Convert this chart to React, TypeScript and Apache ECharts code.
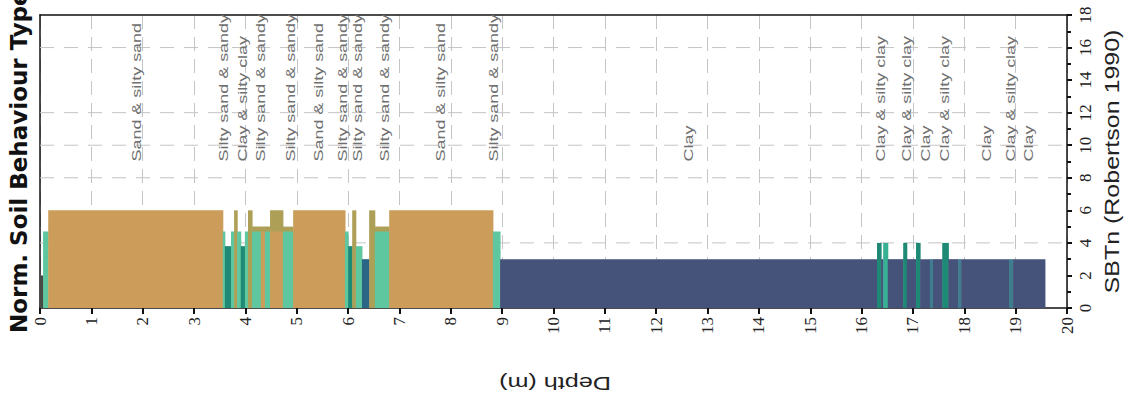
import { useEffect, useRef } from "react";
import * as echarts from "echarts";

// ---- Soil behaviour segments (depth from, depth to, SBTn value, zone colour key) ----
const segStart = [0, 0.06, 0.16, 3.56, 3.6, 3.72, 3.78, 3.84, 3.91, 3.99, 4.05, 4.13, 4.13, 4.3, 4.38, 4.48, 4.48, 4.73, 4.73, 4.93, 5.94, 6.0, 6.08, 6.15, 6.27, 6.41, 6.52, 6.52, 6.8, 8.82, 8.96, 16.3, 16.38, 16.42, 16.51, 16.81, 16.88, 17.06, 17.14, 17.33, 17.39, 17.57, 17.69, 17.88, 17.94, 18.87, 18.95];
const segEnd = [0.06, 0.16, 3.56, 3.6, 3.72, 3.78, 3.84, 3.91, 3.99, 4.05, 4.13, 4.48, 4.3, 4.38, 4.48, 4.73, 4.73, 4.93, 4.93, 5.94, 6.0, 6.08, 6.15, 6.27, 6.41, 6.52, 6.8, 6.8, 8.82, 8.96, 16.3, 16.38, 16.42, 16.51, 16.81, 16.88, 17.06, 17.14, 17.33, 17.39, 17.57, 17.69, 17.88, 17.94, 18.87, 18.95, 19.57];
const segValue = [2, 4.7, 6, 4.7, 3.8, 4.7, 6, 4.7, 3.8, 4.7, 6, 5, 4.7, 4.7, 4.7, 6, 4.7, 5, 4.7, 6, 4.7, 3.8, 6, 3.8, 3, 6, 5, 4.7, 6, 4.7, 3, 4, 3, 4, 3, 4, 3, 4, 3, 3, 3, 4, 3, 3, 3, 3, 3];
const segZone = ["dark", "green", "orange", "green", "teal", "green", "olive", "green", "teal", "green", "olive", "olive", "green", "orange", "green", "olive", "orange", "olive", "green", "orange", "green", "teal", "olive", "green", "navyTeal", "olive", "olive", "green", "orange", "green", "navy", "teal", "navy", "teal2", "navy", "teal", "navy", "teal", "navy", "slate", "navy", "teal", "navy", "slate", "navy", "slate", "navy"];

// ---- Zone labels written inside the plot ----
const labelDepth = [1.88, 3.58, 3.95, 4.3, 4.87, 5.43, 5.88, 6.19, 6.7, 7.79, 8.84, 12.62, 16.36, 16.88, 17.25, 17.62, 18.44, 18.89, 19.24];
const labelText = [
  "Sand & silty sand", "Silty sand & sandy", "Clay & silty clay", "Silty sand & sandy", "Silty sand & sandy",
  "Sand & silty sand", "Silty sand & sandy", "Silty sand & sandy", "Silty sand & sandy", "Sand & silty sand",
  "Silty sand & sandy", "Clay", "Clay & silty clay", "Clay & silty clay", "Clay", "Clay & silty clay",
  "Clay", "Clay & silty clay", "Clay",
];
const labelBase = 9;

// ---- Horizontal dashed reference lines (SBTn values) ----
const hGridValues = [4, 8, 10, 12, 16];

const zoneColors: Record<string, string> = {
  orange: "#cc9d5a",
  green: "#5ec7a0",
  teal: "#1e8a76",
  teal2: "#37b093",
  olive: "#ad9f55",
  navy: "#45527a",
  navyTeal: "#2a6585",
  slate: "#3f7d8e",
  dark: "#4a4a48",
};

export default function App() {
  const ref = useRef<HTMLDivElement>(null);
  useEffect(() => {
    const chart = echarts.init(ref.current!, null, { renderer: "svg" });
    const barData = segStart.map((s, i) => [s, segEnd[i], segValue[i], i]);
    const labelData = labelDepth.map((d, i) => [d, labelBase, i]);
    const axisLine = { show: true, onZero: false, lineStyle: { color: "#111", width: 1.5 } };
    const option: any = {
      animation: false,
      backgroundColor: "#ffffff",
      grid: { left: 40, right: 66, top: 15, bottom: 102 },
      xAxis: [
        {
          type: "value", min: 0, max: 20, interval: 1, position: "bottom",
          axisLine,
          axisTick: { show: true, inside: false, length: 6, lineStyle: { color: "#111", width: 2 } },
          axisLabel: { rotate: 90, margin: 9, fontFamily: "Liberation Serif", fontSize: 17, color: "#222" },
          splitLine: { show: true, lineStyle: { color: "#c4c4c4", type: [14, 8], width: 1 } },
        },
        {
          type: "value", min: 0, max: 20, position: "top",
          axisLine, axisTick: { show: false }, axisLabel: { show: false }, splitLine: { show: false },
        },
      ],
      yAxis: [
        {
          type: "value", min: 0, max: 18, position: "left",
          axisLine, axisTick: { show: false }, axisLabel: { show: false }, splitLine: { show: false },
        },
        {
          type: "value", min: 0, max: 18, interval: 2, position: "right",
          axisLine,
          axisTick: { show: true, length: 5, lineStyle: { color: "#111", width: 2 } },
          minorTick: { show: true, splitNumber: 2, length: 4, lineStyle: { color: "#111", width: 2 } },
          axisLabel: { rotate: 90, margin: 10, fontFamily: "Liberation Serif", fontSize: 17, color: "#222" },
          splitLine: { show: false },
        },
      ],
      graphic: [
        {
          type: "text", x: 19, y: 333, rotation: Math.PI / 2,
          style: { text: "Norm. Soil Behaviour Type", font: 'bold 23px "DejaVu Sans"', fill: "#111", align: "left", verticalAlign: "middle" },
        },
        {
          type: "text", x: 1112, y: 161.5, rotation: Math.PI / 2, scaleX: 1.25,
          style: { text: "SBTn (Robertson 1990)", font: '20px "Liberation Sans"', fill: "#222", align: "center", verticalAlign: "middle" },
        },
        {
          type: "text", x: 555, y: 383, rotation: Math.PI, scaleX: 1.4,
          style: { text: "Depth (m)", font: '18px "Liberation Sans"', fill: "#222", align: "center", verticalAlign: "middle" },
        },
      ],
      series: [
        {
          type: "custom", z: 1, silent: true, xAxisIndex: 0, yAxisIndex: 0,
          data: hGridValues.map((v) => [0, v]),
          encode: { x: 0, y: 1 },
          renderItem: (_p: any, api: any) => {
            const v = api.value(1);
            const a = api.coord([0, v]);
            const b = api.coord([20, v]);
            return { type: "line", shape: { x1: a[0], y1: a[1], x2: b[0], y2: b[1] }, style: { stroke: "#c4c4c4", lineWidth: 1, lineDash: [14, 10] } };
          },
        },
        {
          type: "custom", z: 3, silent: true, xAxisIndex: 0, yAxisIndex: 0,
          data: barData,
          encode: { x: [0, 1], y: 2 },
          renderItem: (_p: any, api: any) => {
            const i = api.value(3);
            const p0 = api.coord([api.value(0), api.value(2)]);
            const p1 = api.coord([api.value(1), 0]);
            return {
              type: "rect",
              shape: { x: p0[0], y: p0[1], width: p1[0] - p0[0] + 0.5, height: p1[1] - p0[1] },
              style: { fill: zoneColors[segZone[i]] },
            };
          },
        },
        {
          type: "custom", z: 4, silent: true, clip: true, xAxisIndex: 0, yAxisIndex: 0,
          data: labelData,
          encode: { x: 0, y: 1 },
          renderItem: (_p: any, api: any) => {
            const i = api.value(2);
            const p = api.coord([api.value(0), api.value(1)]);
            return {
              type: "text", x: p[0], y: p[1], rotation: Math.PI / 2, scaleX: 1.38,
              style: { text: labelText[i], fill: "#707070", font: '13px "Liberation Sans"', align: "left", verticalAlign: "middle" },
            };
          },
        },
      ],
    };
    chart.setOption(option);
    return () => chart.dispose();
  }, []);
  return (
    <div
      ref={ref}
      style={{ position: "fixed", left: 0, top: 0, width: 1133, height: 410, background: "#fff" }}
    />
  );
}
